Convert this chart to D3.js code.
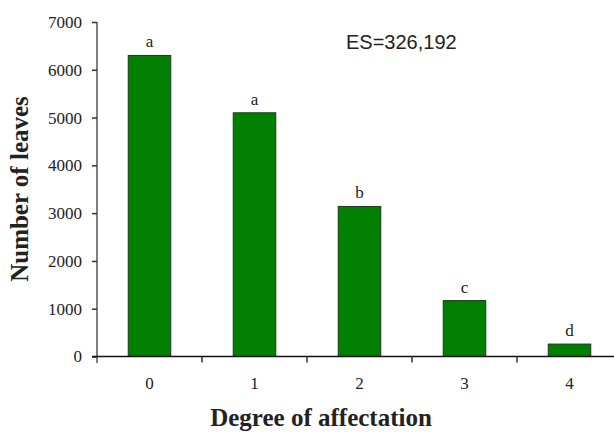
<!DOCTYPE html>
<html>
<head>
<meta charset="utf-8">
<script src="https://cdn.jsdelivr.net/npm/d3@7.9.0/dist/d3.min.js"></script>
<style>
  body { margin: 0; background: #fff; }
  svg { display: block; }
</style>
</head>
<body>
<svg width="614" height="432"></svg>
<script>
const degrees = ['0', '1', '2', '3', '4'];
const leaves = [6300, 5100, 3140, 1170, 260];
const letters = ['a', 'a', 'b', 'c', 'd'];
const yTicks = [0, 1000, 2000, 3000, 4000, 5000, 6000, 7000];

const svg = d3.select('svg');
const serif = '"Liberation Serif", "Times New Roman", serif';

const x = d3.scaleBand()
  .domain(degrees)
  .range([97, 622])
  .paddingInner(0.595)
  .paddingOuter(0.2975);

const y = d3.scaleLinear()
  .domain([0, 7000])
  .range([356.5, 22]);

// bars
svg.selectAll('rect.bar')
  .data(leaves)
  .join('rect')
  .attr('class', 'bar')
  .attr('x', (d, i) => x(degrees[i]))
  .attr('y', d => y(d))
  .attr('width', x.bandwidth())
  .attr('height', d => y(0) - y(d))
  .attr('fill', '#007f00')
  .attr('stroke', '#1c3a1c')
  .attr('stroke-width', 1);

// significance letters
svg.selectAll('text.letter')
  .data(letters)
  .join('text')
  .attr('class', 'letter')
  .attr('x', (d, i) => x(degrees[i]) + x.bandwidth() / 2)
  .attr('y', (d, i) => y(leaves[i]) - 8)
  .attr('text-anchor', 'middle')
  .attr('font-family', serif)
  .attr('font-size', 17)
  .attr('fill', '#222')
  .text(d => d);

// y axis
const yAxis = svg.append('g')
  .attr('transform', 'translate(97,0)')
  .call(d3.axisLeft(y).tickValues(yTicks).tickFormat(d3.format('d')).tickSize(5).tickPadding(10));
yAxis.attr('font-family', serif).attr('font-size', 17);
yAxis.select('.domain').attr('stroke', '#555').attr('stroke-width', 1.5)
  .attr('d', `M0,${y(7000)}V363`);
yAxis.selectAll('.tick line').attr('stroke', '#333').attr('stroke-width', 1.5);
yAxis.selectAll('.tick text')
  .attr('font-family', serif)
  .attr('font-size', 17)
  .attr('fill', '#222');

// x axis: ticks between categories
const xAxis = svg.append('g');
xAxis.append('line')
  .attr('x1', 92).attr('x2', 614)
  .attr('y1', y(0)).attr('y2', y(0))
  .attr('stroke', '#111').attr('stroke-width', 1.5);
xAxis.selectAll('line.sep')
  .data(degrees.slice(1))
  .join('line')
  .attr('class', 'sep')
  .attr('x1', d => x(d) - x.step() * x.paddingInner() / 2)
  .attr('x2', d => x(d) - x.step() * x.paddingInner() / 2)
  .attr('y1', y(0)).attr('y2', y(0) + 6)
  .attr('stroke', '#333').attr('stroke-width', 1.5);
xAxis.selectAll('text.cat')
  .data(degrees)
  .join('text')
  .attr('class', 'cat')
  .attr('x', d => x(d) + x.bandwidth() / 2)
  .attr('y', 389)
  .attr('text-anchor', 'middle')
  .attr('font-family', serif)
  .attr('font-size', 17)
  .attr('fill', '#222')
  .text(d => d);

// titles
svg.append('text')
  .attr('x', 321)
  .attr('y', 426)
  .attr('text-anchor', 'middle')
  .attr('font-family', serif)
  .attr('font-weight', 'bold')
  .attr('font-size', 25)
  .attr('fill', '#222')
  .text('Degree of affectation');

svg.append('text')
  .attr('transform', 'translate(28,189) rotate(-90)')
  .attr('text-anchor', 'middle')
  .attr('font-family', serif)
  .attr('font-weight', 'bold')
  .attr('font-size', 25)
  .attr('fill', '#222')
  .text('Number of leaves');

svg.append('text')
  .attr('x', 346)
  .attr('y', 48.5)
  .attr('font-family', '"Liberation Sans", Arial, sans-serif')
  .attr('font-size', 20)
  .attr('fill', '#222')
  .text('ES=326,192');
</script>
</body>
</html>
